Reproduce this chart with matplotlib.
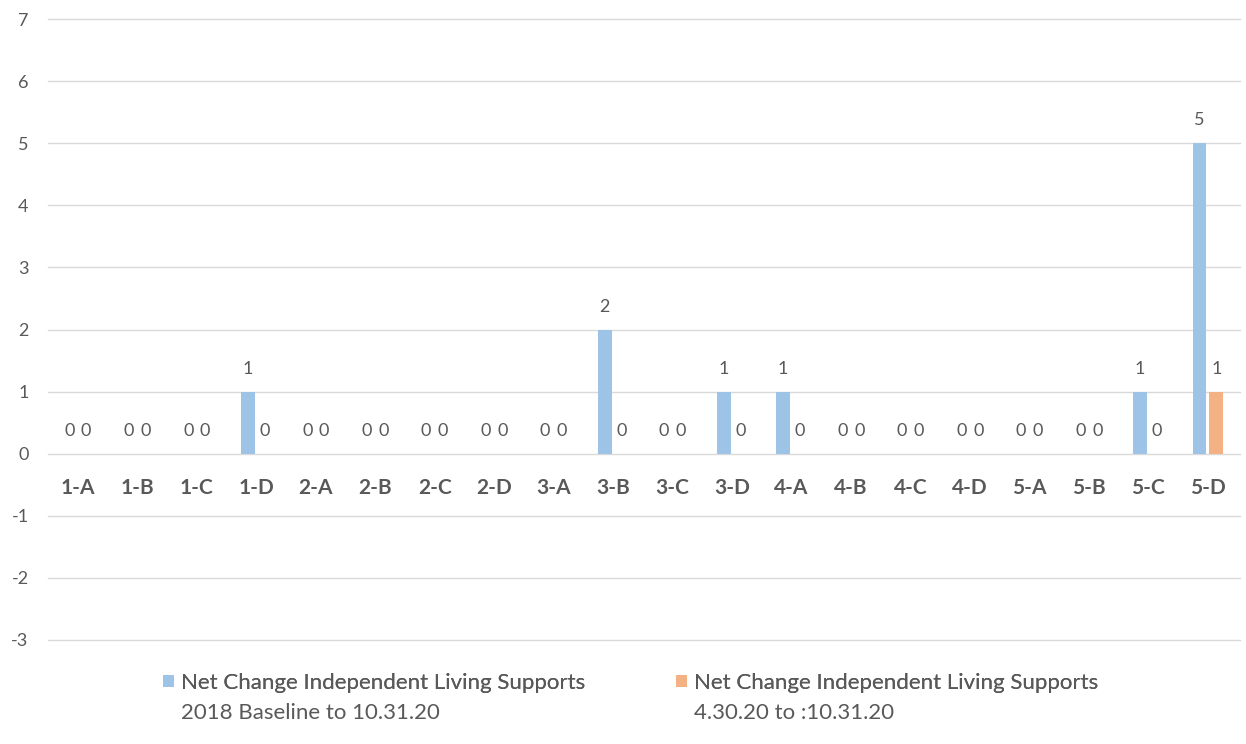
import matplotlib
matplotlib.use("Agg")
import matplotlib.pyplot as plt
import numpy as np

categories = ["1-A", "1-B", "1-C", "1-D", "2-A", "2-B", "2-C", "2-D", "3-A", "3-B",
              "3-C", "3-D", "4-A", "4-B", "4-C", "4-D", "5-A", "5-B", "5-C", "5-D"]
baseline_change = [0, 0, 0, 1, 0, 0, 0, 0, 0, 2, 0, 1, 1, 0, 0, 0, 0, 0, 1, 5]
recent_change = [0, 0, 0, 0, 0, 0, 0, 0, 0, 0, 0, 0, 0, 0, 0, 0, 0, 0, 0, 1]
series_line1 = ["Net Change Independent Living Supports",
                "Net Change Independent Living Supports"]
series_line2 = ["2018 Baseline to 10.31.20", "4.30.20 to :10.31.20"]
y_ticks = [-3, -2, -1, 0, 1, 2, 3, 4, 5, 6, 7]

plt.rcParams['font.family'] = ['Lato', 'DejaVu Sans']
plt.rcParams['axes.unicode_minus'] = False
txt = "#595959"
blue = "#9DC3E6"
orange = "#F4B183"

fig = plt.figure(figsize=(12.46, 7.44), dpi=100)
ax = fig.add_axes([48/1246, 1-640/744, (1240-48)/1246, (640-19)/744])

x = np.arange(len(categories))
w = 0.233
off = 0.142
b1 = ax.bar(x - off, baseline_change, w, color=blue, zorder=3)
b2 = ax.bar(x + off, recent_change, w, color=orange, zorder=3)

for xi, v in zip(x - off, baseline_change):
    ax.text(xi, v + 0.37, str(v), ha='center', va='center', fontsize=13, color=txt)
for xi, v in zip(x + off, recent_change):
    ax.text(xi, v + 0.37, str(v), ha='center', va='center', fontsize=13, color=txt)
for xi, c in zip(x, categories):
    ax.text(xi, -0.56, c, ha='center', va='center', fontsize=15, fontweight='bold', color=txt)

ax.set_ylim(-3, 7)
ax.set_xlim(-0.5, len(categories) - 0.5 + 0.04)
ax.set_yticks(y_ticks)
ax.set_xticks([])
ax.tick_params(axis='y', length=0, labelsize=13, labelcolor=txt, pad=14)
ax.grid(axis='y', color="#d9d9d9", linewidth=1, zorder=0)
for ln in ax.get_ygridlines():
    ln.set_clip_on(False)
for s in ax.spines.values():
    s.set_visible(False)

legs = []
for h, lab, xpos in [(b1, series_line1[0], 163/1246), (b2, series_line1[1], 676/1246)]:
    leg = fig.legend(handles=[h], labels=[lab], loc='center left',
                     bbox_to_anchor=(xpos, 1-683/744), frameon=False, fontsize=16,
                     labelcolor=txt, handlelength=0.5, handleheight=0.5,
                     handletextpad=0.3, borderpad=0, borderaxespad=0)
    fig.add_artist(leg)
    legs.append(leg)

fig.canvas.draw()
r = fig.canvas.get_renderer()
for leg, l2 in zip(legs, series_line2):
    bb = leg.get_texts()[0].get_window_extent(r)
    fig.text(bb.x0 / fig.bbox.width, 1-713/744, l2, ha='left', va='center',
             fontsize=16, color=txt)

fig.savefig("out.png", dpi=100)
